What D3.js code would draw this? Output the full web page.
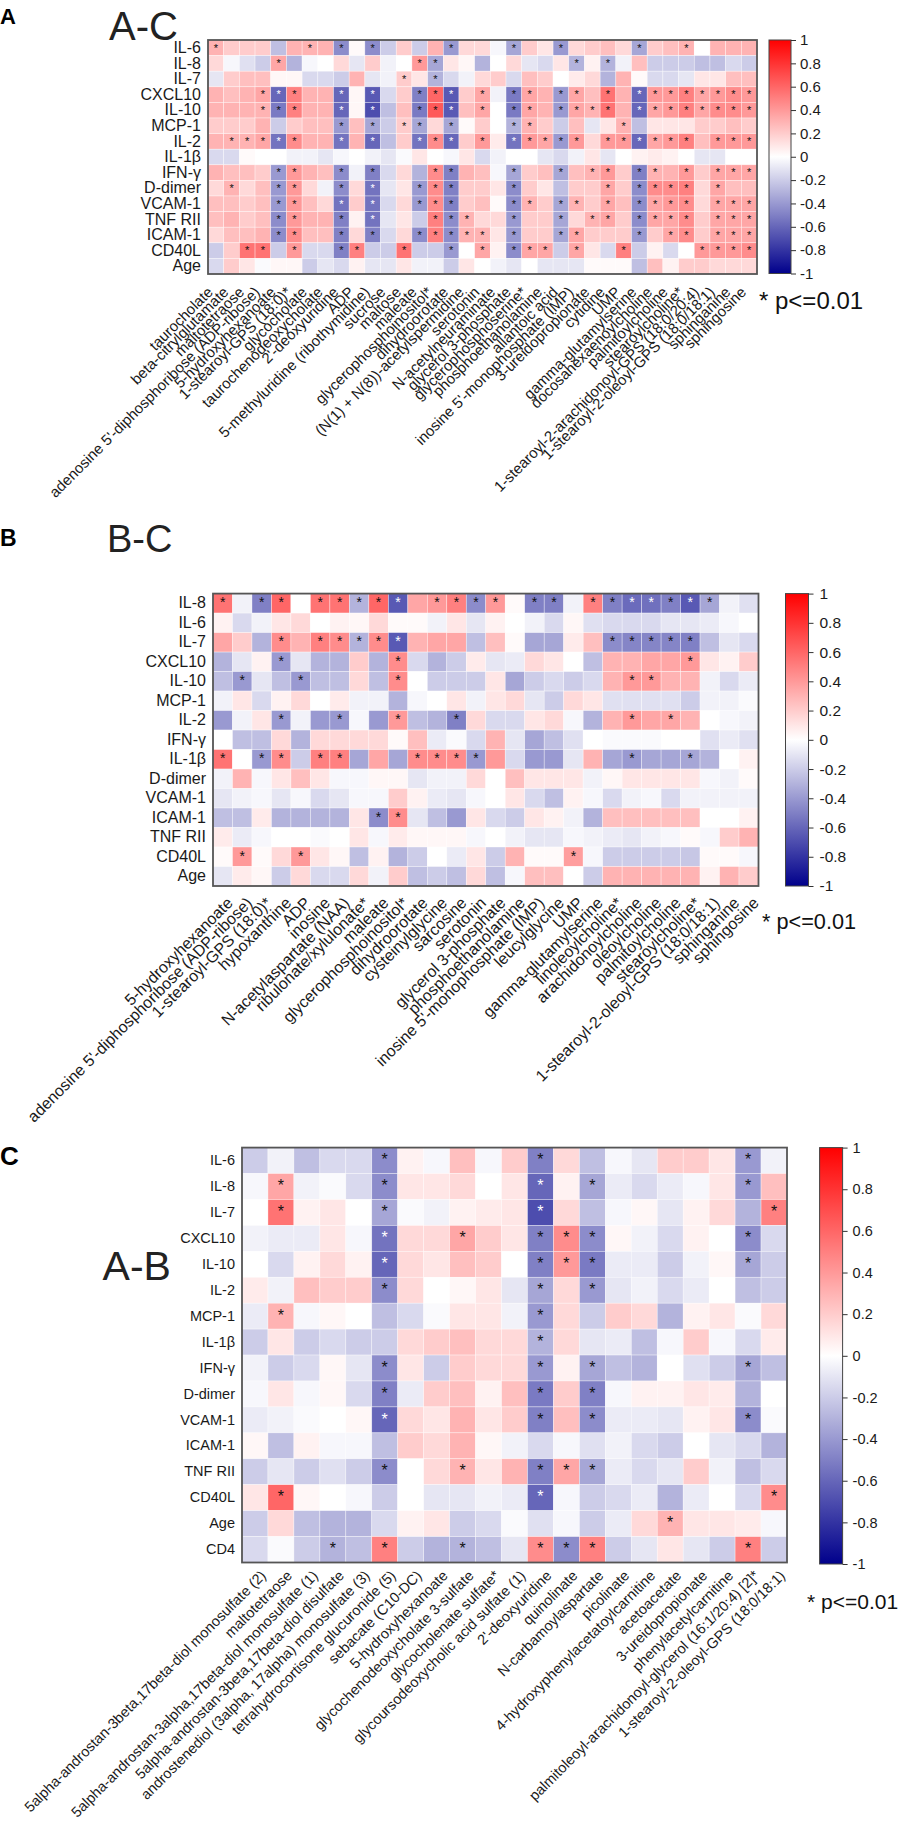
<!DOCTYPE html>
<html><head><meta charset="utf-8">
<script src="https://cdn.jsdelivr.net/npm/d3@7/dist/d3.min.js"></script>
<style>body{margin:0;background:#fff}svg{display:block}text{font-family:"Liberation Sans",Arial,sans-serif}</style>
</head><body>
<svg id="chart" width="904" height="1829"></svg>
<script>
// ---------- Panel A (A-C) ----------
const rowsA = ["IL-6","IL-8","IL-7","CXCL10","IL-10","MCP-1","IL-2","IL-1β","IFN-γ","D-dimer","VCAM-1","TNF RII","ICAM-1","CD40L","Age"];
const colsA = ["taurocholate","beta-citrylglutamate","maltotetraose","adenosine 5'-diphosphoribose (ADP-ribose)","5-hydroxyhexanoate","1-stearoyl-GPS (18:0)*","glycocholate","taurochenodeoxycholate","2'-deoxyuridine","ADP","5-methyluridine (ribothymidine)","sucrose","maltose","maleate","glycerophosphoinositol*","dihydroorotate","(N(1) + N(8))-acetylspermidine","serotonin","N-acetylneuraminate","glycerol 3-phosphate","glycerophosphoserine*","phosphoethanolamine","allantoic acid","inosine 5'-monophosphate (IMP)","3-ureidopropionate","cytidine","UMP","gamma-glutamylserine","docosahexaenoylcholine","palmitoylcholine","stearoylcholine*","1-stearoyl-2-arachidonoyl-GPS (18:0/20:4)","1-stearoyl-2-oleoyl-GPS (18:0/18:1)","sphinganine","sphingosine"];
const valsA = [
 [0.3,0.2,0.2,0.2,-0.25,0.3,0.3,0.3,-0.45,0.02,-0.45,-0.2,0.2,-0.2,0.3,-0.4,0.15,0.15,-0.03,-0.35,0.2,0.1,-0.4,0.15,0.2,0.25,0.15,-0.35,0.2,0.25,0.3,0.0,0.3,0.3,0.3],
 [0.15,-0.03,-0.12,-0.2,0.35,-0.3,-0.03,0,0.15,-0.1,0.2,-0.05,0,0.4,-0.35,0.1,0.03,-0.3,0,0.15,-0.1,-0.15,0.1,-0.3,0.05,-0.3,-0.05,0.25,-0.2,-0.2,-0.2,-0.25,-0.25,-0.15,-0.2],
 [-0.1,0.2,0.25,0.25,0.03,0.03,-0.15,-0.15,-0.2,0.3,-0.1,-0.05,0.2,0.1,-0.3,-0.15,-0.05,0.15,0.2,-0.15,0.25,0.2,0.0,0.08,0.15,-0.3,0.3,0.02,-0.15,-0.15,-0.1,0.1,0.1,0.25,0.25],
 [0.3,0.25,0.3,0.35,-0.6,0.5,0.3,0.3,-0.6,0.03,-0.65,-0.15,0.2,-0.5,0.6,-0.65,0.2,0.35,-0.05,-0.52,0.35,0.3,-0.4,0.35,0.25,0.55,0.3,-0.6,0.4,0.4,0.5,0.35,0.4,0.45,0.4],
 [0.3,0.3,0.3,0.3,-0.52,0.5,0.3,0.3,-0.6,0.03,-0.7,-0.25,0.25,-0.52,0.65,-0.65,0.25,0.35,0.0,-0.52,0.35,0.3,-0.4,0.35,0.3,0.55,0.3,-0.6,0.35,0.4,0.5,0.35,0.45,0.45,0.4],
 [0.2,0.2,0.2,0.3,-0.2,0.2,0.25,0.25,-0.4,0.25,-0.35,-0.2,0.2,-0.35,0.15,-0.35,0.02,0.2,0.0,-0.3,0.3,0.2,-0.2,0.25,-0.1,0.1,0.3,-0.25,0.1,0.1,0.1,0.2,0.2,0.25,0.2],
 [0.3,0.3,0.3,0.35,-0.55,0.45,0.3,0.3,-0.55,0.3,-0.6,-0.25,0.2,-0.55,0.45,-0.6,0.2,0.4,0.08,-0.55,0.4,0.35,-0.4,0.4,0.15,0.4,0.4,-0.6,0.35,0.4,0.5,0.25,0.4,0.4,0.4],
 [-0.15,-0.15,0.02,0.0,0.0,-0.05,-0.05,-0.1,-0.03,0.0,-0.05,-0.1,-0.02,0.1,0.0,-0.03,0.1,-0.15,-0.05,0.0,0.0,-0.1,-0.15,-0.05,0.1,-0.1,0.0,0.05,0.08,0.05,0.0,-0.1,-0.1,0.0,0.0],
 [0.3,0.25,0.25,0.2,-0.4,0.4,0.3,0.25,-0.45,-0.05,-0.5,-0.15,0.15,-0.3,0.45,-0.5,0.3,0.25,-0.03,-0.35,0.2,0.25,-0.35,0.25,0.3,0.4,0.2,-0.5,0.3,0.3,0.4,0.2,0.35,0.35,0.35],
 [0.15,0.3,0.15,0.25,-0.4,0.4,0.15,-0.05,-0.45,0.15,-0.55,-0.1,0.1,-0.4,0.45,-0.5,0.2,0.2,0.1,-0.45,0.2,0.1,-0.25,0.2,0.2,0.35,0.2,-0.45,0.45,0.45,0.5,0.15,0.35,0.25,0.25],
 [0.25,0.25,0.2,0.25,-0.4,0.4,0.25,0.15,-0.55,0.2,-0.55,-0.15,0.15,-0.4,0.45,-0.5,0.2,0.25,0.02,-0.45,0.3,0.2,-0.35,0.3,0.2,0.35,0.25,-0.45,0.35,0.4,0.45,0.15,0.35,0.35,0.35],
 [0.25,0.3,0.2,0.25,-0.45,0.4,0.3,0.3,-0.5,0.05,-0.55,-0.1,0.1,-0.2,0.5,-0.45,0.3,0.15,0.15,-0.4,0.2,0.2,-0.35,0.15,0.3,0.35,0.2,-0.45,0.35,0.35,0.45,0.2,0.35,0.35,0.35],
 [0.15,0.25,0.25,0.3,-0.45,0.45,0.25,0.25,-0.5,0.15,-0.5,-0.15,0.15,-0.45,0.5,-0.45,0.3,0.3,0.1,-0.4,0.2,0.2,-0.35,0.35,0.2,0.2,0.2,-0.4,0.2,0.35,0.45,0.2,0.35,0.35,0.35],
 [-0.2,0.2,0.55,0.55,-0.2,0.4,-0.15,-0.15,-0.5,0.5,-0.2,-0.2,0.55,-0.2,-0.2,-0.4,0.0,0.35,0.05,-0.45,0.35,0.35,-0.2,0.35,0.1,-0.15,0.5,-0.2,0.05,-0.15,0.0,0.4,0.4,0.4,0.45],
 [-0.15,0.2,0.1,-0.02,0.03,0.03,-0.2,-0.1,-0.15,0.05,-0.1,-0.1,0.1,-0.05,-0.05,-0.2,0.1,0.0,-0.05,-0.1,0.0,-0.1,-0.1,-0.1,0.02,0.02,0.02,-0.25,0.25,0.05,0.2,0.2,0.15,0.15,0.15]
];
const starsA = [
 [0,6,8,10,15,19,22,27,30],
 [4,13,14,23,25],
 [12,14],
 [3,4,5,8,10,13,14,15,17,19,20,22,23,25,27,28,29,30,31,32,33,34],
 [3,4,5,8,10,13,14,15,17,19,20,22,23,24,25,27,28,29,30,31,32,33,34],
 [8,10,12,13,15,19,20,26],
 [1,2,3,4,5,8,10,13,14,15,17,19,20,21,22,23,25,26,27,28,29,30,32,33,34],
 [],
 [4,5,8,10,14,15,19,22,24,25,27,28,30,32,33,34],
 [1,4,5,8,10,13,14,15,19,25,27,28,29,30,32],
 [4,5,8,10,13,14,15,19,20,22,23,25,27,28,29,30,32,33,34],
 [4,5,8,10,14,15,16,19,22,24,25,27,28,29,30,32,33,34],
 [4,5,8,10,13,14,15,16,17,19,22,23,27,29,30,32,33,34],
 [2,3,5,8,9,12,15,17,19,20,21,23,26,31,32,33,34],
 []
];

// ---------- Panel B (B-C) ----------
const rowsB = ["IL-8","IL-6","IL-7","CXCL10","IL-10","MCP-1","IL-2","IFN-γ","IL-1β","D-dimer","VCAM-1","ICAM-1","TNF RII","CD40L","Age"];
const colsB = ["5-hydroxyhexanoate","adenosine 5'-diphosphoribose (ADP-ribose)","1-stearoyl-GPS (18:0)*","hypoxanthine","ADP","inosine","N-acetylaspartate (NAA)","ribulonate/xylulonate*","maleate","glycerophosphoinositol*","dihydroorotate","cysteinylglycine","sarcosine","serotonin","glycerol 3-phosphate","phosphoethanolamine","inosine 5'-monophosphate (IMP)","leucylglycine","UMP","gamma-glutamylserine","linoleoylcholine*","arachidonoylcholine","oleoylcholine","palmitoylcholine","stearoylcholine*","1-stearoyl-2-oleoyl-GPS (18:0/18:1)","sphinganine","sphingosine"];
const valsB = [
 [0.55,-0.05,-0.5,0.6,0.0,0.55,0.55,-0.3,0.6,-0.65,0.35,0.4,0.5,-0.45,0.4,0.02,-0.5,-0.5,-0.05,0.5,-0.5,-0.58,-0.56,-0.5,-0.65,-0.35,-0.05,-0.12],
 [0.05,-0.15,-0.05,0.1,0.15,0.0,0.05,0.03,0.15,0.02,0.02,-0.05,0.1,-0.1,0.05,0.0,-0.05,-0.15,0.03,-0.12,-0.15,-0.15,-0.15,-0.1,-0.1,-0.08,-0.03,0.0],
 [0.35,0.2,-0.3,0.45,0.3,0.5,0.45,-0.3,0.45,-0.65,0.3,0.35,0.35,-0.25,0.25,0.02,-0.35,-0.35,0.08,0.25,-0.45,-0.48,-0.48,-0.48,-0.5,-0.25,-0.1,-0.15],
 [-0.3,-0.1,0.05,-0.4,-0.1,-0.3,-0.3,0.2,-0.3,0.45,-0.15,-0.3,-0.2,0.08,-0.1,-0.08,0.15,0.1,0.0,-0.25,0.3,0.3,0.35,0.35,0.4,0.1,0.05,0.2],
 [-0.25,-0.4,-0.1,-0.25,-0.4,-0.25,-0.25,0.15,-0.25,0.45,0.0,-0.2,-0.2,-0.2,0.1,-0.35,-0.2,-0.15,-0.2,-0.15,0.3,0.4,0.4,0.3,0.3,-0.05,-0.15,-0.08],
 [-0.05,0.1,-0.15,0.05,0.15,0.0,0.08,-0.05,-0.05,-0.3,-0.03,0.0,0.1,-0.05,0.1,0.15,-0.1,-0.2,0.15,0.1,-0.12,-0.12,-0.12,-0.12,-0.2,-0.05,-0.05,-0.02],
 [-0.4,-0.05,0.1,-0.4,-0.05,-0.4,-0.4,-0.03,-0.4,0.4,-0.25,-0.3,-0.5,0.15,-0.15,-0.15,0.1,0.15,-0.03,-0.3,0.3,0.4,0.35,0.35,0.3,0.0,-0.03,-0.05],
 [0.0,-0.25,-0.25,0.15,-0.3,0.15,0.15,0.15,0.15,0.02,0.25,-0.08,-0.02,-0.15,0.3,-0.1,-0.35,-0.25,-0.12,0.0,-0.02,-0.02,-0.02,0.0,0.0,-0.12,-0.08,-0.12],
 [0.55,0.0,-0.4,0.45,-0.2,0.5,0.5,-0.35,0.35,-0.35,0.45,0.45,0.45,-0.4,0.4,-0.15,-0.4,-0.4,-0.1,0.3,-0.35,-0.4,-0.35,-0.35,-0.35,-0.3,0.0,0.05],
 [-0.05,0.3,-0.03,0.1,0.25,0.1,-0.03,-0.03,0.03,0.03,-0.1,-0.05,-0.05,0.15,0.0,0.25,0.1,0.1,0.1,-0.05,0.03,0.1,0.1,0.1,0.1,-0.03,-0.05,0.02],
 [-0.1,-0.05,-0.03,-0.1,-0.03,-0.15,-0.1,-0.03,-0.03,0.2,0.05,-0.08,-0.1,-0.03,0.0,0.1,-0.15,-0.25,0.05,-0.03,-0.15,-0.05,-0.03,-0.15,-0.05,-0.05,-0.05,-0.05],
 [-0.25,-0.25,0.08,-0.3,-0.3,-0.3,-0.3,0.1,-0.45,0.45,-0.1,-0.25,-0.4,0.1,-0.15,-0.2,0.1,0.05,-0.05,-0.3,0.25,0.25,0.25,0.25,0.25,0.0,0.0,0.05],
 [0.08,-0.08,-0.03,0.0,0.0,-0.02,0.0,0.1,-0.03,0.08,0.03,0.03,0.03,-0.03,0.0,-0.05,-0.1,-0.1,-0.03,-0.05,-0.08,-0.1,-0.05,-0.03,0.02,-0.03,0.2,0.3],
 [0.02,0.4,0.02,0.15,0.4,0.1,0.03,-0.25,0.05,-0.3,-0.2,0.0,-0.08,0.1,-0.2,0.3,0.02,0.02,0.38,-0.03,-0.2,-0.2,-0.2,-0.2,-0.22,0.02,0.02,-0.03],
 [-0.1,0.08,0.03,-0.2,0.15,-0.15,-0.15,0.15,-0.05,0.2,-0.25,-0.2,-0.25,0.15,-0.25,-0.03,0.25,0.25,0.0,-0.2,0.3,0.3,0.3,0.3,0.3,0.05,0.3,0.2]
];
const starsB = [
 [0,2,3,5,6,7,8,9,11,12,13,14,16,17,19,20,21,22,23,24,25],
 [],
 [3,5,6,7,8,9,20,21,22,23,24],
 [3,9,24],
 [1,4,9,21,22],
 [],
 [3,6,9,12,21,23],
 [],
 [0,2,3,5,6,10,11,12,13,21,24],
 [], [], [8,9], [], [1,4,18], []
];

// ---------- Panel C (A-B) ----------
const rowsC = ["IL-6","IL-8","IL-7","CXCL10","IL-10","IL-2","MCP-1","IL-1β","IFN-γ","D-dimer","VCAM-1","ICAM-1","TNF RII","CD40L","Age","CD4"];
const colsC = ["5alpha-androstan-3beta,17beta-diol monosulfate (2)","maltotetraose","5alpha-androstan-3alpha,17beta-diol monosulfate (1)","5alpha-androstan-3beta,17beta-diol disulfate","androstenediol (3alpha, 17alpha) monosulfate (3)","tetrahydrocortisone glucuronide (5)","sebacate (C10-DC)","5-hydroxyhexanoate","glycochenodeoxycholate 3-sulfate","glycocholenate sulfate*","glycoursodeoxycholic acid sulfate (1)","2'-deoxyuridine","quinolinate","N-carbamoylaspartate","picolinate","4-hydroxyphenylacetatoylcarnitine","acetoacetate","3-ureidopropionate","phenylacetylcarnitine","palmitoleoyl-arachidonoyl-glycerol (16:1/20:4) [2]*","1-stearoyl-2-oleoyl-GPS (18:0/18:1)"];
const valsC = [
 [-0.2,-0.05,-0.25,-0.15,-0.15,-0.45,0.05,-0.03,0.25,-0.03,0.2,-0.5,0.15,-0.25,-0.03,-0.1,0.2,0.2,0.1,-0.4,-0.05],
 [-0.03,0.35,-0.05,-0.02,-0.15,-0.45,0.1,0.1,0.15,0.0,0.1,-0.6,0.05,-0.35,-0.08,-0.15,-0.08,-0.03,0.1,-0.4,0.25],
 [0.0,0.55,0.05,0.1,0.0,-0.35,-0.02,-0.05,0.05,0.08,0.1,-0.7,0.15,-0.25,-0.03,0.03,-0.1,0.05,0.15,-0.3,0.5],
 [-0.05,-0.08,-0.08,0.1,-0.03,-0.55,0.15,0.15,0.35,0.2,0.1,-0.5,0.45,-0.45,0.03,-0.05,-0.15,0.05,0.0,-0.45,-0.15],
 [0.0,-0.15,0.05,0.15,0.05,-0.6,0.15,0.1,0.25,0.2,0.0,-0.5,0.4,-0.52,-0.08,-0.08,-0.2,-0.05,0.03,-0.35,-0.2],
 [0.08,-0.05,0.25,0.2,0.2,-0.45,0.15,0.0,0.03,0.1,-0.1,-0.35,0.15,-0.4,-0.1,-0.05,-0.15,-0.08,0.0,-0.25,-0.2],
 [-0.08,0.3,-0.03,0.03,0.0,-0.25,-0.15,-0.02,0.1,0.1,-0.05,-0.4,0.15,-0.2,0.2,0.15,-0.3,0.05,0.1,-0.02,0.15],
 [-0.2,0.1,-0.2,-0.15,-0.2,-0.2,0.15,0.2,0.25,0.15,0.15,-0.3,0.15,-0.1,-0.08,-0.25,-0.03,0.2,-0.03,-0.15,0.08],
 [-0.05,-0.2,-0.15,0.03,-0.1,-0.45,0.1,-0.2,0.2,0.15,0.15,-0.4,0.05,-0.35,-0.25,-0.3,0.0,-0.12,-0.2,-0.35,-0.25],
 [-0.03,0.1,-0.03,0.03,-0.15,-0.5,-0.08,0.2,0.25,0.05,0.25,-0.52,0.2,-0.5,-0.03,0.05,0.05,0.1,0.08,-0.3,0.0],
 [-0.08,-0.05,-0.02,0.0,0.03,-0.6,0.15,0.1,0.3,0.1,0.2,-0.5,0.25,-0.45,-0.08,-0.08,-0.1,0.05,0.1,-0.45,-0.02],
 [0.03,-0.25,0.05,-0.03,-0.03,-0.25,0.2,0.15,0.3,0.03,-0.05,-0.15,-0.03,-0.12,-0.05,-0.15,-0.2,0.0,-0.1,-0.15,-0.3],
 [-0.2,-0.1,-0.2,-0.12,-0.2,-0.45,0.0,0.15,0.3,0.1,0.3,-0.5,0.35,-0.35,-0.08,-0.15,-0.1,0.2,-0.05,-0.25,-0.15],
 [0.1,0.6,0.03,0.0,-0.03,-0.2,0.0,-0.1,-0.1,-0.05,-0.08,-0.6,-0.03,-0.2,-0.15,-0.08,-0.3,-0.08,0.0,-0.15,0.45],
 [-0.2,0.15,-0.25,-0.3,-0.3,-0.15,0.05,0.1,-0.2,-0.15,-0.02,-0.12,-0.03,-0.2,-0.08,0.15,0.3,0.1,0.1,0.08,-0.03],
 [-0.15,-0.02,-0.2,-0.3,-0.25,0.5,-0.2,-0.3,-0.3,-0.25,-0.1,0.45,-0.45,0.5,-0.2,-0.1,0.1,-0.1,-0.2,0.5,-0.2]
];
const starsC = [
 [5,11,19],[1,5,11,13,19],[1,5,11,20],[5,8,11,12,13,19],[5,11,12,13,19],[5,11,13],[1,11],[11],
 [5,11,13,19],[5,11,13],[5,11,13,19],[],[5,8,11,12,13],[1,11,20],[16],[3,5,8,11,12,13,19]
];

const colorTicks = [1,0.8,0.6,0.4,0.2,0,-0.2,-0.4,-0.6,-0.8,-1];

// ---------- drawing ----------
const svg = d3.select("#chart");
svg.append("rect").attr("width",904).attr("height",1829).attr("fill","#fff");
const color = d3.scaleLinear().domain([-1,0,1]).range(["#00008b","#ffffff","#ff0000"]);

const defs = svg.append("defs");
const grad = defs.append("linearGradient").attr("id","cbgrad").attr("x1",0).attr("y1",0).attr("x2",0).attr("y2",1);
d3.range(0,21).forEach(i => {
  const t = i/20;
  grad.append("stop").attr("offset",t).attr("stop-color",color(1-2*t));
});

function drawPanel(o){
  const g = svg.append("g");
  const x = d3.scaleBand().domain(d3.range(o.cols.length)).range([o.x0,o.x1]);
  const y = d3.scaleBand().domain(d3.range(o.rows.length)).range([o.y0,o.y1]);
  const cells = o.vals.flatMap((row,i)=>row.map((v,j)=>({i,j,v})));
  g.selectAll("rect.cell").data(cells).join("rect").attr("class","cell")
    .attr("x",d=>x(d.j)).attr("y",d=>y(d.i))
    .attr("width",x.bandwidth()).attr("height",y.bandwidth())
    .attr("fill",d=>color(d.v))
    .attr("stroke","rgba(255,255,255,0.6)").attr("stroke-width",0.6);
  const st = o.stars.flatMap((row,i)=>row.map(j=>({i,j,v:o.vals[i][j]})));
  g.selectAll("text.star").data(st).join("text").attr("class","star")
    .attr("x",d=>x(d.j)+x.bandwidth()/2).attr("y",d=>y(d.i)+y.bandwidth()/2+o.starDy)
    .attr("text-anchor","middle").attr("font-size",o.starSize)
    .attr("fill",d=>d.v < -0.545 ? "#ffffff" : "#111").text("*");
  g.append("rect").attr("x",o.x0).attr("y",o.y0).attr("width",o.x1-o.x0).attr("height",o.y1-o.y0)
    .attr("fill","none").attr("stroke","#555").attr("stroke-width",1.8);
  // row labels
  const yl = d3.scaleBand().domain(o.rows).range([o.y0,o.y1]);
  const ax = g.append("g").attr("transform",`translate(${o.x0},0)`)
    .call(d3.axisLeft(yl).tickSize(0).tickPadding(o.rowPad));
  ax.select(".domain").remove();
  ax.selectAll("text").attr("font-size",o.rowSize).attr("fill","#1a1a1a")
    .style("font-family",'"Liberation Sans",Arial,sans-serif');
  // column labels
  g.selectAll("text.col").data(o.cols).join("text").attr("class","col")
    .attr("transform",(d,j)=>`translate(${x(j)+x.bandwidth()/2+o.colDx},${o.y1+o.colDy}) rotate(-45)`)
    .attr("text-anchor","end").attr("font-size",o.colSize).attr("fill","#1a1a1a").text(d=>d);
  // colorbar
  g.append("rect").attr("x",o.cbx).attr("y",o.y0).attr("width",o.cbw).attr("height",o.cby1-o.y0)
    .attr("fill","url(#cbgrad)").attr("stroke","#444").attr("stroke-width",1);
  const cs = d3.scaleLinear().domain([-1,1]).range([o.cby1,o.y0]);
  const cax = g.append("g").attr("transform",`translate(${o.cbx+o.cbw},0)`)
    .call(d3.axisRight(cs).tickValues(colorTicks).tickSize(5).tickPadding(o.tickPad)
      .tickFormat(d=>String(+d.toFixed(1))));
  cax.select(".domain").remove();
  cax.selectAll("line").attr("stroke","#333");
  cax.selectAll("text").attr("font-size",o.tickSize).attr("fill","#1a1a1a")
    .style("font-family",'"Liberation Sans",Arial,sans-serif');
  // titles
  g.append("text").attr("x",o.tx).attr("y",o.ty).attr("font-size",o.tSize).attr("fill","#222").text(o.title);
  g.append("text").attr("x",0).attr("y",o.ly).attr("font-size",o.lSize).attr("font-weight","bold").attr("fill","#000").text(o.letter);
  g.append("text").attr("x",o.px).attr("y",o.py).attr("font-size",o.pSize).attr("fill","#111").text("* p<=0.01");
}

drawPanel({rows:rowsA, cols:colsA, vals:valsA, stars:starsA,
  x0:208, x1:757, y0:40, y1:274, rowPad:7, rowSize:16, colSize:15, colDx:-2, colDy:19,
  starSize:11, starDy:3.7, cbx:769, cbw:22, cby1:273.5, tickPad:4, tickSize:15,
  title:"A-C", tx:109, ty:40, tSize:40, letter:"A", ly:24, lSize:22, px:759, py:309, pSize:24});

drawPanel({rows:rowsB, cols:colsB, vals:valsB, stars:starsB,
  x0:213, x1:758.5, y0:593.6, y1:886, rowPad:7, rowSize:16, colSize:16, colDx:11, colDy:18,
  starSize:14, starDy:4.1, cbx:785.5, cbw:23, cby1:886, tickPad:6, tickSize:15.5,
  title:"B-C", tx:107, ty:552, tSize:38, letter:"B", ly:546, lSize:23, px:762, py:929, pSize:21.7});

drawPanel({rows:rowsC, cols:colsC, vals:valsC, stars:starsC,
  x0:242, x1:787, y0:1147.6, y1:1562.5, rowPad:7, rowSize:14.5, colSize:14.5, colDx:12, colDy:14,
  starSize:16, starDy:4.7, cbx:819.6, cbw:23, cby1:1564, tickPad:5, tickSize:14.5,
  title:"A-B", tx:102.6, ty:1280, tSize:41, letter:"C", ly:1165, lSize:26, px:807, py:1609, pSize:21});
</script>
</body></html>
